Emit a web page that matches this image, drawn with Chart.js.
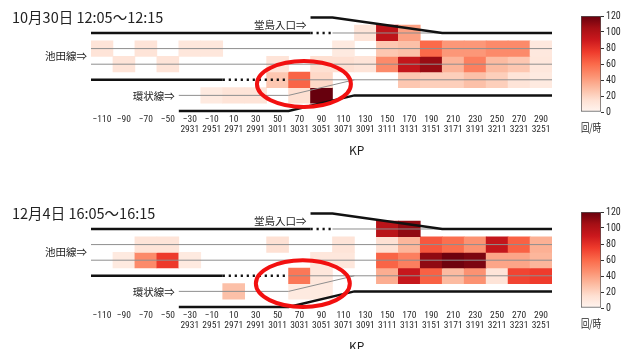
<!DOCTYPE html>
<html>
<head>
<meta charset="utf-8">
<script src="https://cdn.jsdelivr.net/npm/chart.js@4/dist/chart.umd.min.js"></script>
<style>
  html, body { margin: 0; padding: 0; background: #fff; overflow: hidden; width: 625px; height: 349px; }
  .panel { position: absolute; left: 0; width: 625px; height: 196px; }
  .panel canvas { position: absolute; }
</style>
</head>
<body>
<div class="panel" style="top:0px">
  <canvas id="map1" width="625" height="196" style="left:0;top:0"></canvas>
  <canvas id="bar1" width="65" height="140" style="left:560px;top:0"></canvas>
</div>
<div class="panel" style="top:196px">
  <canvas id="map2" width="625" height="196" style="left:0;top:0"></canvas>
  <canvas id="bar2" width="65" height="140" style="left:560px;top:0"></canvas>
</div>
<script>
// KP tick labels (upper row) and the kilopost numbers of the loop line (lower row)
const kpLabels = ['−110','−90','−70','−50','−30','−10','10','30','50','70','90','110','130','150','170','190','210','230','250','270','290'];
const kpSub    = ['','','','','2931','2951','2971','2991','3011','3031','3051','3071','3091','3111','3131','3151','3171','3191','3211','3231','3251'];

const _ = null;
// 10/30 12:05-12:15, lane-changes per hour; lanes top to bottom
const oct30Dojima  = [_, _, _, _, _, _, _, _, _, _, _, _, 12, 95, 40, _, _, _, _, _, _];
const oct30IkedaA  = [12, _, 12, _, 10, 10, _, _, _, _, _, 8, _, 25, 28, 60, 43, 43, 48, 48, 9];
const oct30IkedaB  = [_, 12, _, 12, _, _, _, _, 12, _, 15, 15, 12, 48, 93, 108, 33, 52, 30, 25, 10];
const oct30Merge   = [_, _, _, _, _, _, _, _, 25, 62, 18, _, _, _, 25, 22, 22, 28, 22, 12, 8];
const oct30Kanjo   = [_, _, _, _, _, 8, 12, 12, _, 15, 120, _, _, _, _, _, _, _, _, _, _];

// 12/4 16:05-16:15
const dec4Dojima   = [_, _, _, _, _, _, _, _, _, _, _, _, _, 97, 110, _, _, _, _, _, _];
const dec4IkedaA   = [_, _, 12, 12, _, _, _, _, 14, _, _, 12, _, 14, 32, 66, 58, 45, 93, 63, 34];
const dec4IkedaB   = [_, 8, 48, 76, 8, _, _, _, _, _, 10, 10, _, 62, 52, 110, 118, 115, 38, 38, 32];
const dec4Merge    = [_, _, _, _, _, _, _, _, _, 55, 10, _, _, 35, 92, 63, 30, 45, 12, 72, 75];
const dec4Kanjo    = [_, _, _, _, _, _, 28, _, _, 8, 8, _, _, _, _, _, _, _, _, _, _];

// road outline in (KP column, lane) units
const edgeLines = [
  [[-0.5, 0], [9.5, 0]],
  [[9.5, -1], [10.5, -1], [15.5, 0], [20.5, 0]],
  [[-0.5, 3], [5.5, 3]],
  [[3.5, 5], [8.5, 5], [11.5, 4], [20.5, 4]]
];
const gapLines = [
  [[9.5, 0], [10.5, 0]],
  [[5.5, 3], [8.5, 3]]
];
const laneLines = [
  [[10.5, 0], [15.5, 0]],
  [[-0.5, 1], [20.5, 1]],
  [[-0.5, 2], [20.5, 2]],
  [[8.5, 3], [20.5, 3]],
  [[3.5, 4], [8.5, 4], [11.5, 3]]
];

const COLOR_MAX = 120;
const REDS = ['#fff5f0','#fee0d2','#fcbba1','#fc9272','#fb6a4a','#ef3b2c','#cb181d','#a50f15','#67000d'];
const NARROW = "'Liberation Sans Narrow', 'Roboto Condensed', 'DejaVu Sans Condensed', 'Arial Narrow', sans-serif";
const CJK = "'Noto Sans CJK JP', 'Noto Sans', sans-serif";

function hexRgb(h) {
  const n = parseInt(h.slice(1), 16);
  return [(n >> 16) & 255, (n >> 8) & 255, n & 255];
}
function redsColor(v) {
  const t = Math.max(0, Math.min(1, v / COLOR_MAX)) * (REDS.length - 1);
  const i = Math.min(Math.floor(t), REDS.length - 2);
  const f = t - i;
  const a = hexRgb(REDS[i]), b = hexRgb(REDS[i + 1]);
  const c = a.map((ch, k) => Math.round(ch + (b[k] - ch) * f));
  return `rgb(${c[0]},${c[1]},${c[2]})`;
}

function cellDatasets(lanes) {
  return lanes.map((vals, lane) => ({
    type: 'bar',
    order: 10,
    data: vals.map((v, i) => (v == null ? null : { x: i, y: [lane - 0.5, lane + 0.5], v })).filter(Boolean),
    backgroundColor: ctx => (ctx.raw ? redsColor(ctx.raw.v) : 'transparent'),
    borderWidth: 0,
    barPercentage: 1,
    categoryPercentage: 1,
    grouped: false
  }));
}

function pathDatasets(paths, style) {
  return paths.map(p => Object.assign({
    type: 'line',
    data: p.map(([x, y]) => ({ x, y })),
    pointRadius: 0,
    fill: false,
    tension: 0,
    borderCapStyle: 'butt'
  }, style));
}

const panelDecor = {
  id: 'panelDecor',
  afterDatasetsDraw(chart, args, opts) {
    const { ctx, scales: { x, y } } = chart;
    ctx.save();
    ctx.fillStyle = '#222';
    ctx.textBaseline = 'middle';

    ctx.textAlign = 'left';
    ctx.font = `14.5px ${CJK}`;
    ctx.fillText(opts.title, 12, 17);

    ctx.textAlign = 'right';
    ctx.font = `10.5px ${CJK}`;
    ctx.fillText('池田線⇒', x.getPixelForValue(-0.5) - 4, y.getPixelForValue(1.5));
    ctx.fillText('環状線⇒', x.getPixelForValue(3.5) - 4, y.getPixelForValue(4.05));
    ctx.fillText('堂島入口⇒', x.getPixelForValue(9.5) - 4, y.getPixelForValue(-0.5));

    ctx.textAlign = 'center';
    ctx.font = `12px ${CJK}`;
    ctx.fillText('KP', x.getPixelForValue(11.6), 150);

    const m = opts.mark;
    const cx = x.getPixelForValue(m.kp), cy = y.getPixelForValue(m.lane);
    const rx = Math.abs(x.getPixelForValue(m.kp + m.rx) - cx);
    const ry = Math.abs(y.getPixelForValue(m.lane + m.ry) - cy);
    ctx.beginPath();
    ctx.ellipse(cx, cy, rx, ry, 0, 0, Math.PI * 2);
    ctx.lineWidth = 4;
    ctx.strokeStyle = '#f21010';
    ctx.stroke();
    ctx.restore();
  }
};

function heatmap(id, lanes, title, mark) {
  const datasets = [
    ...cellDatasets(lanes),
    ...pathDatasets(laneLines, { order: 2, borderColor: '#8f8f8f', borderWidth: 1 }),
    ...pathDatasets(edgeLines, { order: 1, borderColor: '#111', borderWidth: 2.5 }),
    ...pathDatasets(gapLines, { order: 1, borderColor: '#111', borderWidth: 2.5, borderDash: [2.2, 3.8] })
  ];
  new Chart(document.getElementById(id), {
    type: 'bar',
    data: { datasets },
    options: {
      responsive: false,
      animation: false,
      events: [],
      layout: { padding: { left: 91, right: 73, top: 9.6, bottom: 41.9 } },
      plugins: { legend: { display: false }, tooltip: { enabled: false }, panelDecor: { title, mark } },
      scales: {
        x: {
          type: 'linear',
          min: -0.5,
          max: 20.5,
          offset: false,
          grid: { display: false, drawTicks: false, offset: false },
          border: { display: false },
          afterBuildTicks: s => { s.ticks = kpLabels.map((_, i) => ({ value: i })); },
          afterFit: s => { s.height = 40; },
          ticks: {
            autoSkip: false,
            maxRotation: 0,
            minRotation: 0,
            padding: 1.2,
            color: '#2a2a2a',
            font: { family: NARROW, size: 9.5, lineHeight: 1 },
            callback: v => {
              const i = Math.round(v);
              return kpSub[i] ? [kpLabels[i], kpSub[i]] : kpLabels[i];
            }
          }
        },
        y: {
          type: 'linear',
          display: false,
          reverse: true,
          min: -1.5,
          max: 5.2
        }
      }
    },
    plugins: [panelDecor]
  });
}

function colorbar(id) {
  new Chart(document.getElementById(id), {
    type: 'bar',
    data: {
      labels: [''],
      datasets: [{
        data: [[0, COLOR_MAX]],
        backgroundColor: ctx => {
          const area = ctx.chart.chartArea;
          if (!area) return REDS[4];
          const g = ctx.chart.ctx.createLinearGradient(0, area.bottom, 0, area.top);
          REDS.forEach((c, i) => g.addColorStop(i / (REDS.length - 1), c));
          return g;
        },
        borderColor: '#555',
        borderWidth: 1,
        borderSkipped: false,
        barPercentage: 1,
        categoryPercentage: 1
      }]
    },
    options: {
      responsive: false,
      animation: false,
      events: [],
      layout: { padding: { left: 21, right: 0, top: 16, bottom: 4 } },
      plugins: { legend: { display: false }, tooltip: { enabled: false } },
      scales: {
        x: {
          grid: { display: false },
          border: { display: false },
          ticks: { display: false },
          title: { display: true, text: '回/時', color: '#222', font: { family: CJK, size: 11 }, padding: { top: 0, bottom: 1.4 } },
          afterFit: s => { s.height = 24; }
        },
        y: {
          position: 'right',
          min: 0,
          max: COLOR_MAX,
          grid: { drawOnChartArea: false, drawTicks: true, tickLength: 3, color: '#333' },
          border: { display: false },
          ticks: { stepSize: 20, padding: 2, color: '#2a2a2a', font: { family: NARROW, size: 10 } },
          afterFit: s => { s.width = 24; }
        }
      }
    }
  });
}

heatmap('map1', [oct30Dojima, oct30IkedaA, oct30IkedaB, oct30Merge, oct30Kanjo],
  '10月30日 12:05～12:15', { kp: 9.2, lane: 3.27, rx: 2.14, ry: 1.47 });
heatmap('map2', [dec4Dojima, dec4IkedaA, dec4IkedaB, dec4Merge, dec4Kanjo],
  '12月4日 16:05～16:15', { kp: 9.15, lane: 3.5, rx: 2.14, ry: 1.5 });
colorbar('bar1');
colorbar('bar2');
</script>
</body>
</html>
